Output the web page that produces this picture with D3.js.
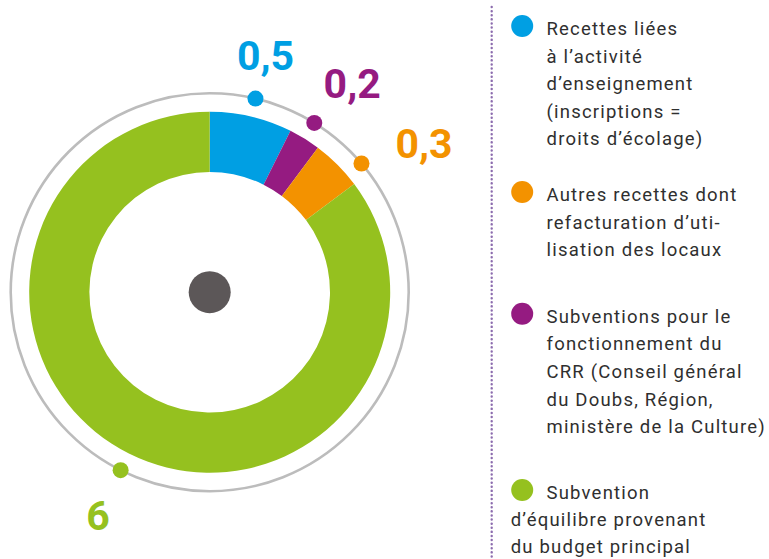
<!DOCTYPE html>
<html><head><meta charset="utf-8">
<script src="https://cdn.jsdelivr.net/npm/d3@7"></script>
<style>
html,body{margin:0;padding:0;background:#fff;}
svg{display:block;}
</style></head>
<body>
<svg id="chart" width="769" height="559"></svg>
<script>
// ---- data (pie order, clockwise from top) ----
const categories = ["enseignement", "subventions", "autres", "equilibre"];
const values = [0.52, 0.2, 0.32, 6];
const valueLabels = ["0,5", "0,2", "0,3", "6"];
const colors = ["#009fe3", "#951b81", "#f39200", "#95c11f"];
const legendOrder = [0, 2, 1, 3];
const legendLines = [
  ["Recettes liées", "à l’activité", "d’enseignement", "(inscriptions =", "droits d’écolage)"],
  ["Subventions pour le", "fonctionnement du", "CRR (Conseil général", "du Doubs, Région,", "ministère de la Culture)"],
  ["Autres recettes dont", "refacturation d’uti-", "lisation des locaux"],
  ["Subvention", "d’équilibre provenant", "du budget principal"]
];

// ---- layout ----
const svg = d3.select("#chart");
const cx = 209.7, cy = 292.2;
const rOuter = 180.5, rInner = 120.3, rRing = 199;

const pie = d3.pie().sort(null).value(d => d)(values);
const arc = d3.arc().innerRadius(rInner).outerRadius(rOuter);
const g = svg.append("g").attr("transform", `translate(${cx},${cy})`);

g.append("circle").attr("r", rRing).attr("fill", "none")
  .attr("stroke", "#bcbcbc").attr("stroke-width", 2.6);

g.selectAll("path.slice").data(pie).join("path")
  .attr("class", "slice")
  .attr("d", arc)
  .attr("fill", (d, i) => colors[i]);

g.append("circle").attr("r", 21).attr("fill", "#5c5758");

// push markers forward so neighbours keep a minimum angular separation
function spread(angles, minSep) {
  const a = angles.slice();
  for (let i = 1; i < a.length; i++) {
    if (a[i] - a[i - 1] < minSep) a[i] = a[i - 1] + minSep;
  }
  return a;
}
const deg = Math.PI / 180;
const mids = pie.map(d => (d.startAngle + d.endAngle) / 2);
const dotAngles = spread(mids, 18 * deg);
const labelAngles = spread(mids, 21 * deg);

g.selectAll("circle.dot").data(pie).join("circle")
  .attr("class", "dot")
  .attr("cx", (d, i) => rRing * Math.sin(dotAngles[i]))
  .attr("cy", (d, i) => -rRing * Math.cos(dotAngles[i]))
  .attr("r", 8)
  .attr("fill", (d, i) => colors[i]);

const fs = 41;
const labels = g.selectAll("text.val").data(pie).join("text")
  .attr("class", "val")
  .attr("text-anchor", "middle")
  .attr("font-family", "Roboto, 'DejaVu Sans', sans-serif")
  .attr("font-weight", 700)
  .attr("font-size", fs)
  .attr("fill", (d, i) => colors[i])
  .text((d, i) => valueLabels[i]);
labels.each(function (d, i) {
  const a = labelAngles[i];
  const R = 236 + 30 * Math.abs(Math.sin(a));
  const x = R * Math.sin(a), y = -R * Math.cos(a);
  d3.select(this).attr("x", x).attr("y", y + fs * 0.355);
});

// ---- legend ----
svg.append("line")
  .attr("x1", 491.7).attr("x2", 491.7).attr("y1", 7).attr("y2", 559)
  .attr("stroke", "#8c6cae").attr("stroke-width", 2.4)
  .attr("stroke-dasharray", "0.1,4").attr("stroke-linecap", "round");

const lh = 27.6;
const legendTops = [35, 201, 322.7, 499];
const lg = svg.append("g");
legendOrder.forEach((idx, k) => {
  const y0 = legendTops[k];
  lg.append("circle").attr("cx", 522.2).attr("cy", y0 - 9).attr("r", 11)
    .attr("fill", colors[idx]);
  const lines = legendLines[idx];
  lines.forEach((t, j) => {
    const hang = (idx === 3 && j > 0);
    lg.append("text")
      .attr("x", hang ? 510.7 : 546.5)
      .attr("y", y0 + j * (idx === 3 ? 26.8 : lh))
      .attr("font-family", "Roboto, sans-serif")
      .attr("font-size", 18.5)
      .attr("letter-spacing", 1.2)
      .attr("fill", "#2f2f2f")
      .text(t);
  });
});
</script>
</body></html>
